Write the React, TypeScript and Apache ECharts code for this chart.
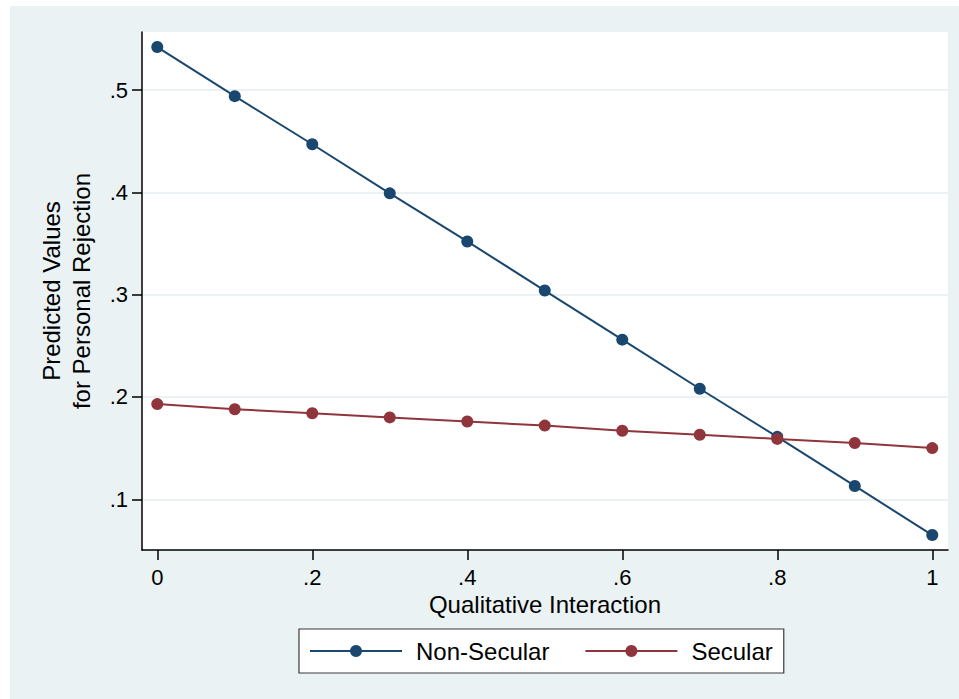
import React, { useEffect, useRef } from "react";
import * as echarts from "echarts";

const xValues = [0, 0.1, 0.2, 0.3, 0.4, 0.5, 0.6, 0.7, 0.8, 0.9, 1];
const nonSecular = [0.542, 0.494, 0.447, 0.399, 0.352, 0.304, 0.256, 0.208, 0.161, 0.113, 0.065];
const secular = [0.193, 0.188, 0.184, 0.18, 0.176, 0.172, 0.167, 0.163, 0.159, 0.155, 0.15];
const xTicks = [0, 0.2, 0.4, 0.6, 0.8, 1];
const yTicks = [0.1, 0.2, 0.3, 0.4, 0.5];
const seriesNames = ["Non-Secular", "Secular"];
const xTitle = "Qualitative Interaction";
const yTitle = "Predicted Values\nfor Personal Rejection";

const FONT = "'Liberation Sans', Arial, Helvetica, sans-serif";
const BG = "#EAF2F3";

const fmt = (v: number) => {
  const s = (Math.round(v * 10) / 10).toString();
  return s.startsWith("0.") ? s.slice(1) : s;
};

export default function App() {
  const ref = useRef<HTMLDivElement>(null);
  useEffect(() => {
    if (!ref.current) return;
    const chart = echarts.init(ref.current, null, { renderer: "svg" });
    chart.setOption({
      animation: false,
      backgroundColor: BG,
      textStyle: { fontFamily: FONT },
      grid: {
        left: 132,
        top: 26,
        right: 11,
        bottom: 149,
        show: true,
        backgroundColor: "#ffffff",
        borderWidth: 0,
      },
      xAxis: {
        type: "value",
        min: -0.0197,
        max: 1.0203,
        name: xTitle,
        nameLocation: "middle",
        nameGap: 38,
        nameTextStyle: { fontSize: 24, color: "#000", fontFamily: FONT },
        axisLine: { show: true, onZero: false, lineStyle: { color: "#000", width: 1.5 } },
        axisTick: { show: true, length: 10, customValues: xTicks, lineStyle: { color: "#000", width: 1.5 } },
        axisLabel: {
          customValues: xTicks,
          formatter: (v: number) => fmt(v),
          fontSize: 22,
          color: "#000",
          margin: 16,
          fontFamily: FONT,
        },
        splitLine: { show: false },
      },
      yAxis: {
        type: "value",
        min: 0.0504,
        max: 0.5567,
        axisLine: { show: true, onZero: false, lineStyle: { color: "#000", width: 1.5 } },
        axisTick: { show: true, length: 10, customValues: yTicks, lineStyle: { color: "#000", width: 1.5 } },
        axisLabel: {
          customValues: yTicks,
          formatter: (v: number) => fmt(v),
          fontSize: 22,
          color: "#000",
          margin: 14,
          fontFamily: FONT,
        },
        splitLine: { show: true, lineStyle: { color: BG, width: 2 } },
      },
      legend: {
        left: 289,
        top: 623,
        orient: "horizontal",
        padding: [10, 11, 10, 10],
        itemGap: 35,
        itemWidth: 92,
        itemHeight: 15,
        backgroundColor: "#ffffff",
        borderColor: "#3a3a3a",
        borderWidth: 1.2,
        textStyle: { fontSize: 24, color: "#000", fontFamily: FONT, padding: [0, 0, 0, 9] },
        data: seriesNames,
      },
      graphic: [
        {
          type: "text",
          x: 56,
          y: 285,
          rotation: Math.PI / 2,
          style: {
            text: yTitle,
            fontSize: 24,
            lineHeight: 30,
            fontFamily: FONT,
            fill: "#000",
            align: "center",
            verticalAlign: "middle",
          },
        },
      ],
      series: [
        {
          name: seriesNames[0],
          type: "line",
          data: xValues.map((x, i) => [x, nonSecular[i]]),
          symbol: "circle",
          symbolSize: 12,
          itemStyle: { color: "#1A476F" },
          lineStyle: { color: "#1A476F", width: 2 },
        },
        {
          name: seriesNames[1],
          type: "line",
          data: xValues.map((x, i) => [x, secular[i]]),
          symbol: "circle",
          symbolSize: 12,
          itemStyle: { color: "#90353B" },
          lineStyle: { color: "#90353B", width: 2 },
        },
      ],
    });
    return () => chart.dispose();
  }, []);
  return (
    <div
      ref={ref}
      style={{ position: "absolute", left: 10, top: 6, width: 949, height: 693 }}
    />
  );
}
